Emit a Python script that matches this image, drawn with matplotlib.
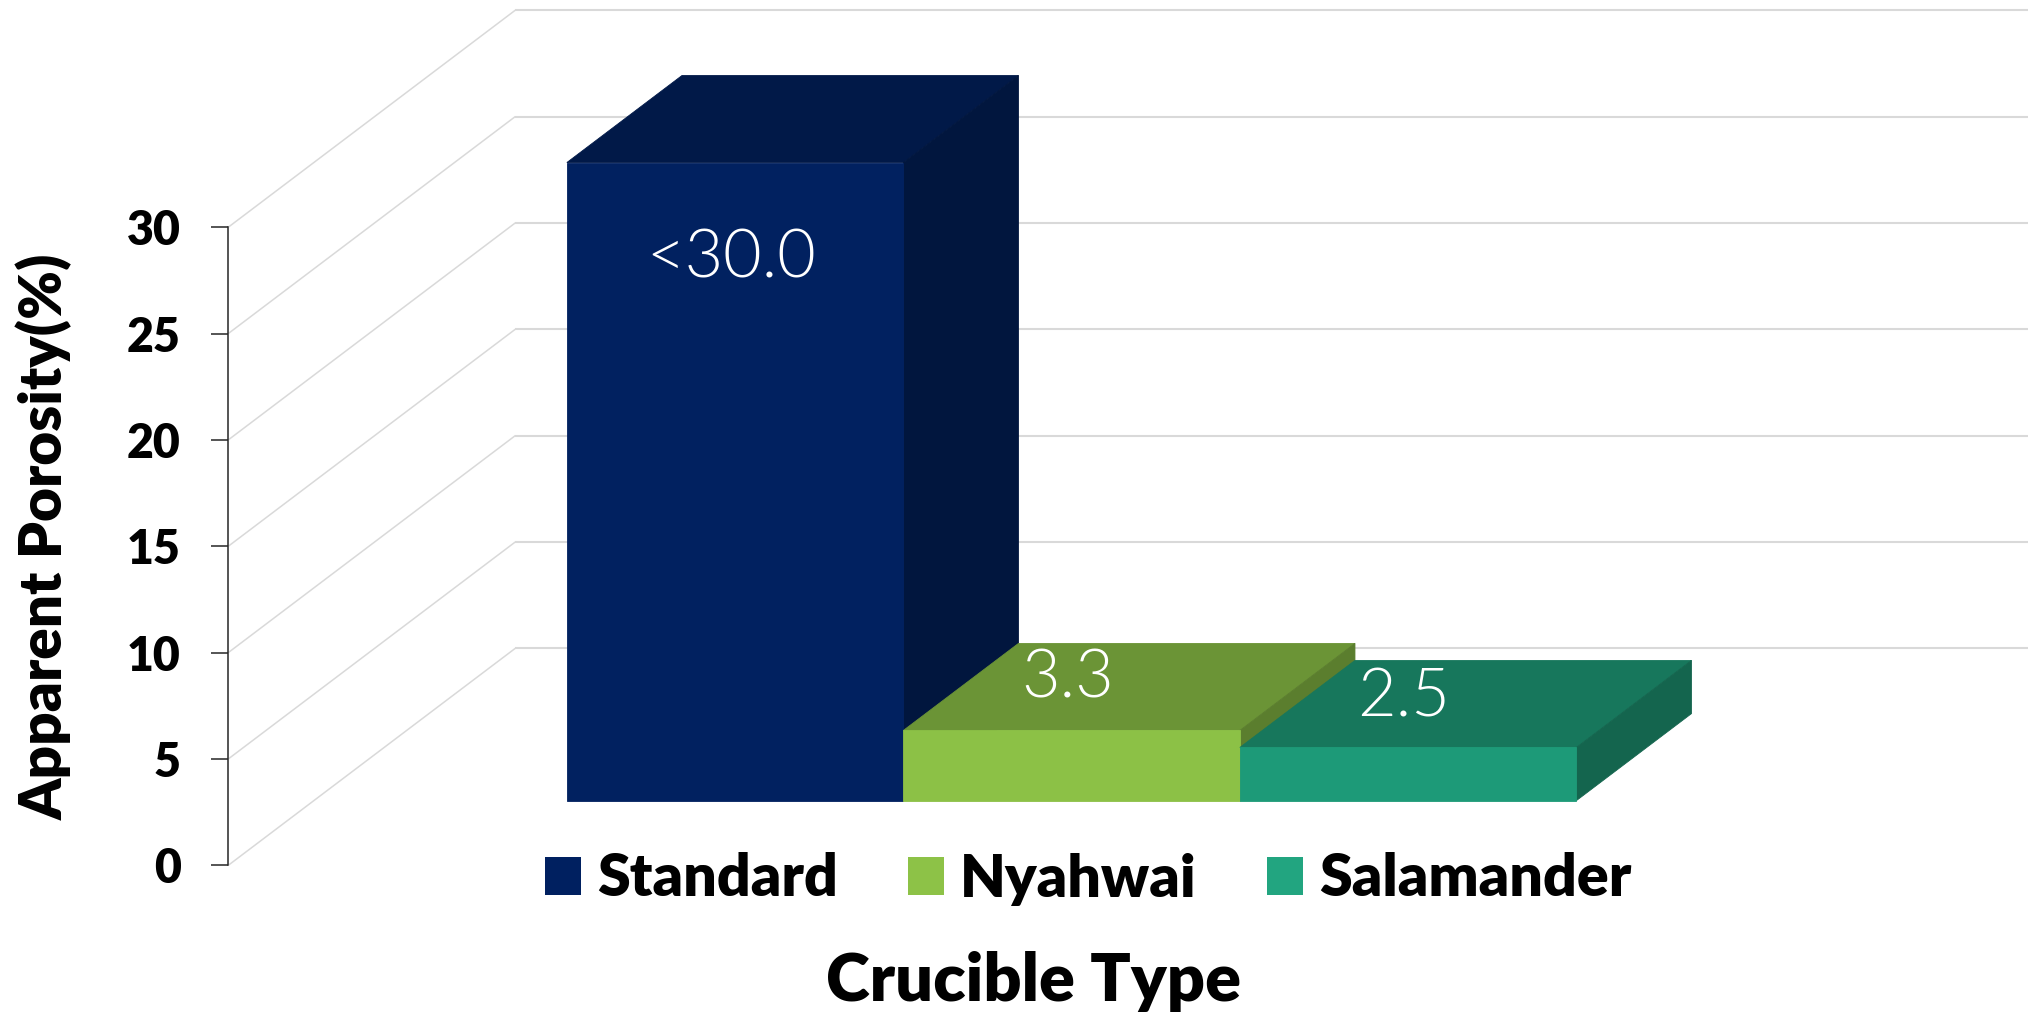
import matplotlib
matplotlib.use("Agg")
import matplotlib.pyplot as plt
from matplotlib.patches import Polygon, Patch
from matplotlib.font_manager import FontProperties

# ---- data ----
categories = ["Standard", "Nyahwai", "Salamander"]
values = [30.0, 3.3, 2.5]
value_labels = ["<30.0", "3.3", "2.5"]
y_ticks = [0, 5, 10, 15, 20, 25, 30]
y_label = "Apparent Porosity(%)"
x_label = "Crucible Type"

# ---- style ----
front_colors = ["#012160", "#8CC146", "#1D9A78"]
top_colors = ["#011948", "#6B9436", "#17775C"]
side_colors = ["#01163E", "#5B7E2E", "#14654E"]
legend_colors = ["#002060", "#8DC247", "#22A580"]
GRID = "#D9D9D9"
AXIS = "#262626"
W, H = 2034, 1017
CAT_PX = 336.5      # pixels per category
UNIT_PX = 21.27     # pixels per value unit
DX_PX, DY_PX = 287.0, 217.0   # full depth shift, pixels
Y0_PX = 865.3
X0_PX = 649.6
D_FRONT, D_BACK = 0.298, 0.699
AXIS_X = (228.3 - X0_PX) / CAT_PX
WALL_END = (2028 - X0_PX) / CAT_PX
HEAVY = 800

plt.rcParams["font.family"] = ["Lato", "DejaVu Sans"]
fig = plt.figure(figsize=(W / 100, H / 100), dpi=100, facecolor="white")
ax = fig.add_axes([0, 0, 1, 1])
ax.set_xlim((0 - X0_PX) / CAT_PX, (W - X0_PX) / CAT_PX)
ax.set_ylim((Y0_PX - H) / UNIT_PX, Y0_PX / UNIT_PX)
ax.patch.set_alpha(0)

def proj(c, v, d):
    """oblique projection: category position, value, depth fraction -> axes data"""
    return (c + d * DX_PX / CAT_PX, v + d * DY_PX / UNIT_PX)

# walls
for t in y_ticks:
    a = proj(AXIS_X, t, 0)
    b = proj(AXIS_X, t, 1)
    e = (WALL_END, b[1])
    ax.plot([a[0], b[0]], [a[1], b[1]], color=GRID, lw=1.1, zorder=1, solid_capstyle="butt")
    ax.plot([b[0], e[0]], [b[1], e[1]], color=GRID, lw=1.5, zorder=1, solid_capstyle="butt")

# bars, painted left to right
for i, v in enumerate(values):
    l, r = i - 0.5, i + 0.5
    z = 3 + i
    top = [proj(l, v, D_FRONT), proj(r, v, D_FRONT), proj(r, v, D_BACK), proj(l, v, D_BACK)]
    side = [proj(r, 0, D_FRONT), proj(r, 0, D_BACK), proj(r, v, D_BACK), proj(r, v, D_FRONT)]
    front = [proj(l, 0, D_FRONT), proj(r, 0, D_FRONT), proj(r, v, D_FRONT), proj(l, v, D_FRONT)]
    for pts, col in ((top, top_colors[i]), (side, side_colors[i]), (front, front_colors[i])):
        ax.add_patch(Polygon(pts, closed=True, facecolor=col, edgecolor=col, lw=0.6, zorder=z))

# value labels
label_offsets = [-70, 36.5, 35.5]  # points from the front top edge
light = FontProperties(family=["Lato", "DejaVu Sans"], weight=300, size=48)
for i, v in enumerate(values):
    x, y = proj(i, v, D_FRONT)
    ax.annotate(value_labels[i], xy=(x, y), xytext=(-3, label_offsets[i]),
                textcoords="offset points", ha="center", va="center",
                color="white", fontproperties=light, zorder=10)

# axis
for s in ("top", "right", "bottom"):
    ax.spines[s].set_visible(False)
ax.spines["left"].set_position(("data", AXIS_X))
ax.spines["left"].set_bounds(0, 30)
ax.spines["left"].set_color(AXIS)
ax.spines["left"].set_linewidth(1.1)
ax.spines["left"].set_zorder(2)
ax.set_xticks([])
ax.set_yticks(y_ticks)
ax.tick_params(axis="y", length=12.2, width=1.1, color=AXIS, pad=22, labelsize=33.5)
for lab in ax.get_yticklabels():
    lab.set_fontweight(HEAVY)
    lab.set_color("black")

ax.set_ylabel(y_label, fontsize=42, fontweight=HEAVY, color="black")
ax.yaxis.set_label_coords(73 / W, 1 - 537 / H)
ax.set_xlabel(x_label, fontsize=48, fontweight=HEAVY, color="black")
ax.xaxis.set_label_coords(1034 / W, 1 - 1001 / H)
ax.xaxis.label.set_verticalalignment("baseline")

handles = [Patch(facecolor=legend_colors[i], edgecolor="none", label=categories[i]) for i in range(3)]
leg = ax.legend(handles=handles, ncol=3, frameon=False, loc="center left",
                bbox_to_anchor=(544.8 / W, 1 - 879 / H), borderaxespad=0, borderpad=0,
                prop=FontProperties(family=["Lato", "DejaVu Sans"], weight=HEAVY, size=42.6),
                handlelength=0.61, handleheight=0.61, handletextpad=0.27, columnspacing=1.19)

fig.savefig("out.png", dpi=100, facecolor="white")
